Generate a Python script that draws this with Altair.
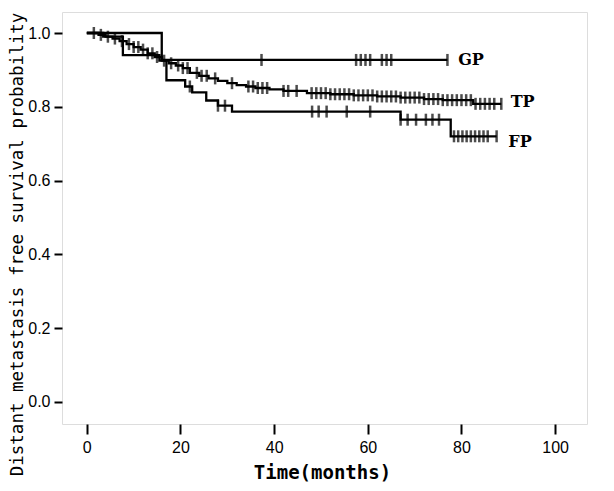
import altair as alt
import pandas as pd

# Kaplan-Meier step curves (time in months, survival)
gp_t = [0, 16, 77]
gp_s = [1.0, 0.927, 0.927]
gp_cens = [37.3, 57.5, 58.5, 59.5, 60.5, 63.0, 64.0, 65.0, 77.0]

tp_t = [0, 2.5, 4, 5.5, 7, 8.5, 10, 11.5, 13, 14.5, 16, 17.5, 19, 20.5, 22, 24, 26, 28, 30,
        32, 34, 36, 39, 42, 47, 52, 57, 62, 67, 72, 76, 82.5, 88.5]
tp_s = [1.0, 0.995, 0.99, 0.985, 0.978, 0.97, 0.962, 0.955, 0.945, 0.935, 0.925, 0.918, 0.912,
        0.905, 0.892, 0.884, 0.877, 0.87, 0.864, 0.859, 0.855, 0.851, 0.847, 0.843, 0.837,
        0.834, 0.831, 0.828, 0.825, 0.821, 0.818, 0.808, 0.808]
tp_cens = [1.5, 3, 4.5, 6, 7.5, 9, 10, 11, 12, 13, 14, 15, 16.5, 18, 19.5, 20.5, 21.5, 23.5,
           24.5, 25.6, 27.4, 31, 34.5, 35.5, 36.5, 37.5, 38.5, 42, 43, 44.8,
           48, 49, 50, 51, 52, 53, 54, 55, 56, 57, 58, 59, 60, 61, 62, 63, 64, 65, 66, 67,
           68, 69, 70, 71, 72, 73, 74, 75, 76, 77, 78, 79, 80, 81, 82,
           83, 84, 85, 86, 87, 88.5]

fp_t = [0, 3.5, 7.7, 15.5, 17, 21, 22.5, 25.5, 28, 31, 67, 77.7, 87.5]
fp_s = [1.0, 0.99, 0.94, 0.925, 0.872, 0.855, 0.839, 0.817, 0.803, 0.787, 0.765, 0.72, 0.72]
fp_cens = [22, 28, 29.5, 48.1, 49.5, 51.2, 55.5, 60.5, 67, 68.5, 70.3, 72.4, 73.8, 75.2,
           78.4, 79.3, 80.2, 81.1, 82, 82.9, 83.8, 84.7, 85.6, 87.5]

groups = ["GP", "TP", "FP"]
label_t = [79.3, 90.5, 90]
label_s = [0.927, 0.812, 0.705]

x_ticks = [0, 20, 40, 60, 80, 100]
y_ticks = [0.0, 0.2, 0.4, 0.6, 0.8, 1.0]


def surv_at(ts, ss, t):
    val = ss[0]
    for ti, si in zip(ts, ss):
        if ti <= t:
            val = si
    return val


curves = []
cens = []
for g, ts, ss, cs in [("GP", gp_t, gp_s, gp_cens), ("TP", tp_t, tp_s, tp_cens), ("FP", fp_t, fp_s, fp_cens)]:
    for i, (t, s) in enumerate(zip(ts, ss)):
        curves.append({"group": g, "t": t, "s": s, "order": i})
    for c in cs:
        cens.append({"group": g, "t": c, "s": surv_at(ts, ss, c)})

curve_df = pd.DataFrame(curves)
cens_df = pd.DataFrame(cens)
label_df = pd.DataFrame({"group": groups, "t": label_t, "s": label_s})

xscale = alt.Scale(domain=[-5.3, 106.8], nice=False, zero=False)
yscale = alt.Scale(domain=[-0.06, 1.057], nice=False, zero=False)

title_font = "DejaVu Sans Mono"

xaxis = alt.Axis(values=x_ticks, format="d", title="Time(months)", grid=False, domain=False,
                 tickSize=10, tickWidth=2, tickColor="black", labelFont="Liberation Sans",
                 labelFontSize=16, labelColor="black", labelPadding=5,
                 titleFont=title_font, titleFontSize=19, titleFontWeight="bold",
                 titleColor="black", titleX=260, titleY=58, titleBaseline="bottom",
                 titleAlign="center")
yaxis = alt.Axis(values=y_ticks, format=".1f", title="Distant metastasis free survival probability",
                 grid=False, domain=False, tickSize=8, tickWidth=2, tickColor="black",
                 labelFont="Liberation Sans", labelFontSize=16, labelColor="black", labelPadding=4,
                 titleFont=title_font, titleFontSize=17.5, titleFontWeight="normal",
                 titleColor="black", titleAngle=270, titleX=-45, titleY=232,
                 titleBaseline="middle", titleAlign="center")

lines = alt.Chart(curve_df).mark_line(interpolate="step-after", color="black", strokeWidth=2.3).encode(
    x=alt.X("t:Q", scale=xscale, axis=xaxis),
    y=alt.Y("s:Q", scale=yscale, axis=yaxis),
    detail="group:N",
    order="order:Q",
)

ticks = alt.Chart(cens_df).mark_tick(orient="vertical", color="black", size=12, thickness=2.5).encode(
    x=alt.X("t:Q", scale=xscale),
    y=alt.Y("s:Q", scale=yscale),
)

labels = alt.Chart(label_df).mark_text(align="left", baseline="middle", font="DejaVu Serif",
                                       fontSize=16, fontWeight="bold", color="black").encode(
    x=alt.X("t:Q", scale=xscale),
    y=alt.Y("s:Q", scale=yscale),
    text="group:N",
)

chart = (lines + ticks + labels).properties(
    width=525, height=412,
    autosize=alt.AutoSizeParams(type="none"),
    padding={"left": 54, "top": 4, "right": 19, "bottom": 59},
).configure_view(stroke="black", strokeWidth=2.5).configure(background="white")

chart.save("out.html", embed_options={"renderer": "svg", "actions": False})
